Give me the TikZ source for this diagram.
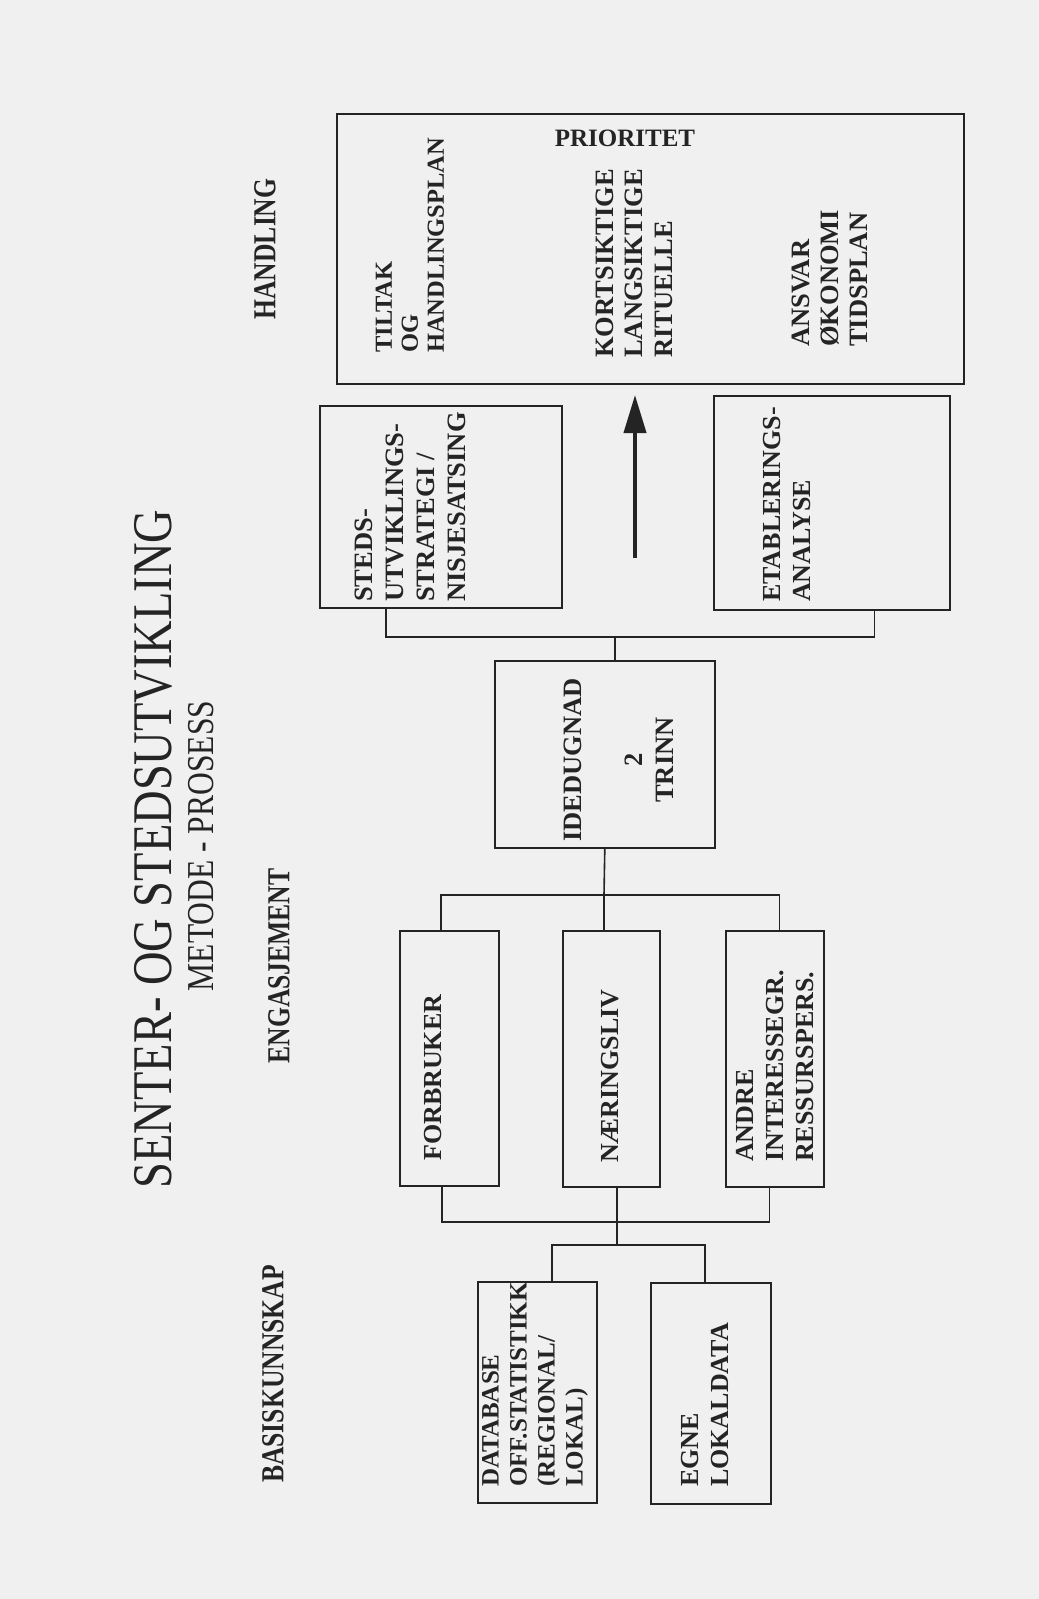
\documentclass[tikz,border=0pt]{standalone}
\usepackage{fontspec}
\setmainfont{Liberation Serif}
\newfontfamily\titlefont[FakeStretch=0.83]{Liberation Serif}
\newfontfamily\headfont[FakeStretch=0.8]{Liberation Serif}
\usetikzlibrary{arrows.meta}
\definecolor{paper}{RGB}{240,240,240}
\definecolor{ink}{RGB}{36,36,36}

\begin{document}
\begin{tikzpicture}[x=1pt, y=-1pt,
    box/.style={draw=ink, line width=1.6pt, inner sep=0pt, anchor=north west},
    txt/.style={rotate=90, anchor=west, align=left, inner sep=0pt, text=ink,
      font=\bfseries\fontsize{26}{30}\selectfont},
    head/.style={rotate=90, inner sep=0pt, text=ink,
      font=\headfont\bfseries\fontsize{32}{34}\selectfont},
    link/.style={draw=ink, line width=1.6pt}
    ]
  \fill[paper] (0,0) rectangle (1039,1599);
  \useasboundingbox (0,0) rectangle (1039,1599);

  % titles and levels
  \node[rotate=90, text=ink, font=\titlefont\fontsize{56}{60}\selectfont] (title) at (153,849) {SENTER- OG STEDSUTVIKLING};
  \node[rotate=90, text=ink, font=\titlefont\fontsize{38}{40}\selectfont] (subtitle) at (201,846) {METODE - PROSESS};
  \node[head] (handling) at (265,249) {HANDLING};
  \node[head] (engasjement) at (279,966) {ENGASJEMENT};
  \node[head] (basis) at (273,1374) {BASISKUNNSKAP};

  % boxes
  \node[box, minimum width=627, minimum height=270] (tiltak) at (336,113) {};
  \node[box, minimum width=242, minimum height=202] (steds) at (319,405) {};
  \node[box, minimum width=236, minimum height=214] (etabl) at (713,395) {};
  \node[box, minimum width=220, minimum height=187] (idedugnad) at (494,660) {};
  \node[box, minimum width=99, minimum height=255] (forbruker) at (399,930) {};
  \node[box, minimum width=97, minimum height=256] (naeringsliv) at (562,930) {};
  \node[box, minimum width=98, minimum height=256] (andre) at (725,930) {};
  \node[box, minimum width=119, minimum height=221] (database) at (477,1281) {};
  \node[box, minimum width=120, minimum height=221] (egne) at (650,1282) {};

  % box texts
  \node[inner sep=0pt, text=ink, font=\bfseries\fontsize{25}{28}\selectfont] (prioritet) at (625,138) {PRIORITET};
  \node[txt, font=\bfseries\fontsize{24.5}{26}\selectfont] (tiltaktxt) at (410,353) {TILTAK\\OG\\HANDLINGSPLAN};
  \node[txt, font=\bfseries\fontsize{26.5}{29.5}\selectfont] (siktetxt) at (634,358) {KORTSIKTIGE\\LANGSIKTIGE\\RITUELLE};
  \node[txt, font=\bfseries\fontsize{26.5}{29}\selectfont] (ansvartxt) at (830,347) {ANSVAR\\ØKONOMI\\TIDSPLAN};
  \node[txt, font=\bfseries\fontsize{26.5}{31}\selectfont] (stedstxt) at (410,602) {STEDS-\\UTVIKLINGS-\\STRATEGI /\\NISJESATSING};
  \node[txt] (etabltxt) at (787,602) {ETABLERINGS-\\ANALYSE};
  \node[txt, anchor=center, align=center, font=\bfseries\fontsize{26.5}{31}\selectfont] (idetxt) at (619,760) {IDEDUGNAD\\[30pt]2\\TRINN};
  \node[txt] (forbrukertxt) at (433,1161) {FORBRUKER};
  \node[txt] (naeringslivtxt) at (610,1163) {NÆRINGSLIV};
  \node[txt] (andretxt) at (775,1162) {ANDRE\\INTERESSEGR.\\RESSURSPERS.};
  \node[txt, font=\bfseries\fontsize{25}{28}\selectfont] (databasetxt) at (535,1487) {DATABASE\\OFF.STATISTIKK\\(REGIONAL/\\LOKAL)};
  \node[txt] (egnetxt) at (705,1487) {EGNE\\LOKALDATA};

  % connectors
  \coordinate (upjoin) at (615,637);
  \coordinate (midjoin) at (604,895);
  \coordinate (lowjoin) at (617,1222);
  \coordinate (basejoin) at (617,1245);
  \draw[link] ([xshift=67]steds.south west) |- (upjoin) -| ([xshift=-76]etabl.south east);
  \draw[link] (upjoin |- idedugnad.north) -- (upjoin);
  \draw[link] (idedugnad.south) -- (midjoin);
  \draw[link] ([xshift=42]forbruker.north west) |- (midjoin) -| ([xshift=-45]andre.north east);
  \draw[link] (midjoin) -- (midjoin |- naeringsliv.north);
  \draw[link] ([xshift=43]forbruker.south west) |- (lowjoin) -| ([xshift=-55]andre.south east);
  \draw[link] (lowjoin |- naeringsliv.south) -- (basejoin);
  \draw[link] ([xshift=75]database.north west) |- (basejoin) -| ([xshift=55]egne.north west);

  % priority arrow
  \coordinate (arrowfoot) at (635,558);
  \coordinate (arrowtip) at (635,395);
  \draw[draw=ink, line width=4pt, -{Triangle[length=38pt, width=22pt]}] (arrowfoot) -- (arrowtip);
\end{tikzpicture}
\end{document}
